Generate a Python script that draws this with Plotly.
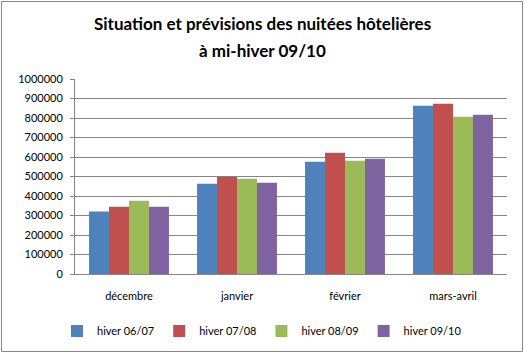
import plotly.graph_objects as go

categories = ["décembre", "janvier", "février", "mars-avril"]
series_names = ["hiver 06/07", "hiver 07/08", "hiver 08/09", "hiver 09/10"]
hiver_0607 = [320000, 463000, 576000, 863000]
hiver_0708 = [345000, 499000, 622000, 873000]
hiver_0809 = [376000, 489000, 581000, 807000]
hiver_0910 = [345000, 468000, 591000, 817000]
colors = ["#4F81BD", "#C0504D", "#9BBB59", "#8064A2"]
tick_vals = [0, 100000, 200000, 300000, 400000, 500000, 600000, 700000, 800000, 900000, 1000000]
title_lines = ["Situation et prévisions des nuitées hôtelières", "à mi-hiver 09/10"]

W, H = 524, 354
ml, mr, mt, mb = 75, 17, 79, 80
pw, ph = W - ml - mr, H - mt - mb

fig = go.Figure()
for name, vals, c in zip(series_names, [hiver_0607, hiver_0708, hiver_0809, hiver_0910], colors):
    fig.add_trace(go.Bar(name=name, x=categories, y=vals, marker=dict(color=c, line=dict(width=0))))

font = "Lato"
fig.update_layout(
    width=W, height=H,
    margin=dict(l=ml, r=mr, t=mt, b=mb, autoexpand=False),
    paper_bgcolor="white", plot_bgcolor="white",
    barmode="group", bargap=0.26, bargroupgap=0,
    font=dict(family=font, size=11, color="black"),
    showlegend=True,
    legend=dict(
        orientation="h", x=(262 - ml) / pw, xanchor="center",
        y=(274 - 331) / ph, yanchor="middle",
        font=dict(family=font, size=11), itemwidth=30,
        traceorder="normal", tracegroupgap=0,
    ),
    xaxis=dict(
        showline=True, linecolor="#868686", linewidth=1,
        ticks="", showgrid=False, ticklabelstandoff=12, automargin=False,
        tickfont=dict(family=font, size=11),
    ),
    yaxis=dict(
        range=[0, 1000000], tickvals=tick_vals,
        ticktext=[str(v) for v in tick_vals],
        showline=True, linecolor="#868686", linewidth=1,
        ticks="outside", ticklen=4, tickcolor="#868686",
        showgrid=True, gridcolor="#868686", gridwidth=1,
        zeroline=False, ticklabelstandoff=5, automargin=False,
        tickfont=dict(family=font, size=11),
    ),
)

for line, ypx in zip(title_lines, [24, 50]):
    fig.add_annotation(
        text="<b>" + line + "</b>", xref="paper", yref="paper",
        x=(262 - ml) / pw, y=(274 - ypx) / ph, xanchor="center", yanchor="middle",
        showarrow=False, font=dict(family=font, size=17, color="black"),
    )

fig.add_shape(
    type="rect", xref="paper", yref="paper",
    x0=(1.5 - ml) / pw, x1=(522.5 - ml) / pw,
    y0=(274 - 351.5) / ph, y1=(274 - 1.5) / ph,
    line=dict(color="#868686", width=1), fillcolor="rgba(0,0,0,0)", layer="below",
)

fig.write_html("out.html")
